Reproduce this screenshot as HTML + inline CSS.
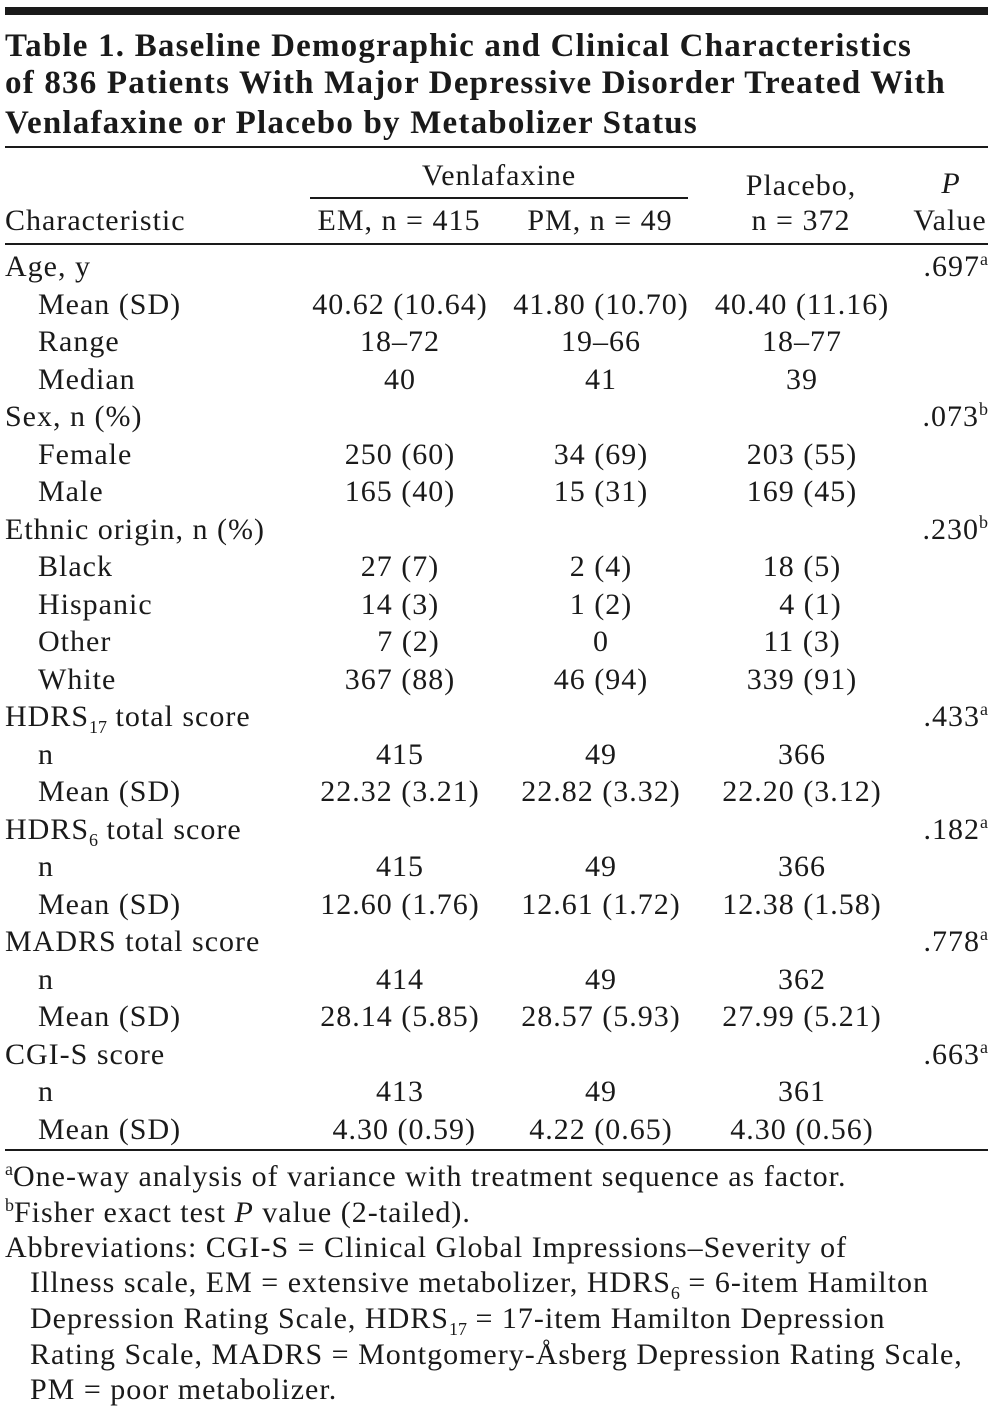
<!DOCTYPE html>
<html><head><meta charset="utf-8">
<style>
body{margin:0;background:#fff;width:997px;height:1425px;overflow:hidden;position:relative;font-family:"Liberation Serif",serif;color:#1a1a1a}
.t{position:absolute;white-space:nowrap;font-size:30px;letter-spacing:1px;line-height:36px}
.c{transform:translateX(-50%)}
.r{transform:translateX(-100%)}
.ln{position:absolute;background:#1a1a1a}
sup,sub{font-size:18px;line-height:0;letter-spacing:0}
.ttl{position:absolute;left:5px;font-size:33px;letter-spacing:1.2px;font-weight:bold;line-height:38px;white-space:nowrap}
</style></head><body>
<div class="ln" style="left:5px;top:7px;width:983px;height:8px"></div>
<div class="ttl" style="top:27px">Table 1. Baseline Demographic and Clinical Characteristics</div>
<div class="ttl" style="top:64px">of 836 Patients With Major Depressive Disorder Treated With</div>
<div class="ttl" style="top:104px">Venlafaxine or Placebo by Metabolizer Status</div>
<div class="ln" style="left:5px;top:146px;width:983px;height:2px"></div>
<div class="t c" style="left:499px;top:158px">Venlafaxine</div>
<div class="ln" style="left:310px;top:197px;width:378px;height:2px"></div>
<div class="t c" style="left:801px;top:168px">Placebo,</div>
<div class="t c" style="left:951px;top:166px"><i>P</i></div>
<div class="t" style="left:5px;top:203px">Characteristic</div>
<div class="t c" style="left:399px;top:203px">EM, n = 415</div>
<div class="t c" style="left:600px;top:203px">PM, n = 49</div>
<div class="t c" style="left:801px;top:203px">n = 372</div>
<div class="t c" style="left:950px;top:203px">Value</div>
<div class="ln" style="left:5px;top:243px;width:983px;height:2px"></div>
<div id="rows"></div>
<div class="ln" style="left:5px;top:1149px;width:983px;height:2px"></div>
<div class="t" style="left:5px;top:1159px"><sup>a</sup>One-way analysis of variance with treatment sequence as factor.</div>
<div class="t" style="left:5px;top:1195px"><sup>b</sup>Fisher exact test <i>P</i> value (2-tailed).</div>
<div class="t" style="left:5px;top:1230px">Abbreviations: CGI-S = Clinical Global Impressions–Severity of</div>
<div class="t" style="left:30px;top:1265px">Illness scale, EM = extensive metabolizer, HDRS<sub>6</sub> = 6-item Hamilton</div>
<div class="t" style="left:30px;top:1301px">Depression Rating Scale, HDRS<sub>17</sub> = 17-item Hamilton Depression</div>
<div class="t" style="left:30px;top:1337px">Rating Scale, MADRS = Montgomery-Åsberg Depression Rating Scale,</div>
<div class="t" style="left:30px;top:1372px">PM = poor metabolizer.</div>
<script>
const labels=["Age, y","Mean (SD)","Range","Median","Sex, n (%)","Female","Male","Ethnic origin, n (%)","Black","Hispanic","Other","White","HDRS<sub>17</sub> total score","n","Mean (SD)","HDRS<sub>6</sub> total score","n","Mean (SD)","MADRS total score","n","Mean (SD)","CGI-S score","n","Mean (SD)"];
const indent=[0,1,1,1,0,1,1,0,1,1,1,1,0,1,1,0,1,1,0,1,1,0,1,1];
const em=["","40.62 (10.64)","18–72","40","","250 (60)","165 (40)","","27 (7)","14 (3)","&nbsp;&nbsp;7 (2)","367 (88)","","415","22.32 (3.21)","","415","12.60 (1.76)","","414","28.14 (5.85)","","413","&nbsp;4.30 (0.59)"];
const pm=["","41.80 (10.70)","19–66","41","","34 (69)","15 (31)","","2 (4)","1 (2)","0","46 (94)","","49","22.82 (3.32)","","49","12.61 (1.72)","","49","28.57 (5.93)","","49","4.22 (0.65)"];
const pl=["","40.40 (11.16)","18–77","39","","203 (55)","169 (45)","","18 (5)","&nbsp;&nbsp;4 (1)","11 (3)","339 (91)","","366","22.20 (3.12)","","366","12.38 (1.58)","","362","27.99 (5.21)","","361","4.30 (0.56)"];
const pv=[".697<sup>a</sup>","","","",".073<sup>b</sup>","","",".230<sup>b</sup>","","","","",".433<sup>a</sup>","","",".182<sup>a</sup>","","",".778<sup>a</sup>","","",".663<sup>a</sup>","",""];
const root=document.getElementById('rows');
function add(html,cls,left,top,name){
  const d=document.createElement('div');
  d.className='t '+cls;d.style.left=left+'px';d.style.top=top+'px';d.innerHTML=html;
  
  
  root.appendChild(d);
}
labels.forEach((l,i)=>{
  const y=249+i*37.5;
  add(l,'',indent[i]?38:5,y,'row-label-'+i);
  if(em[i])add(em[i],'c',400,y,'em-cell-'+i);
  if(pm[i])add(pm[i],'c',601,y,'pm-cell-'+i);
  if(pl[i])add(pl[i],'c',802,y,'placebo-cell-'+i);
  if(pv[i])add(pv[i],'r',988,y,'p-value-cell-'+i);
});
</script>
</body></html>
